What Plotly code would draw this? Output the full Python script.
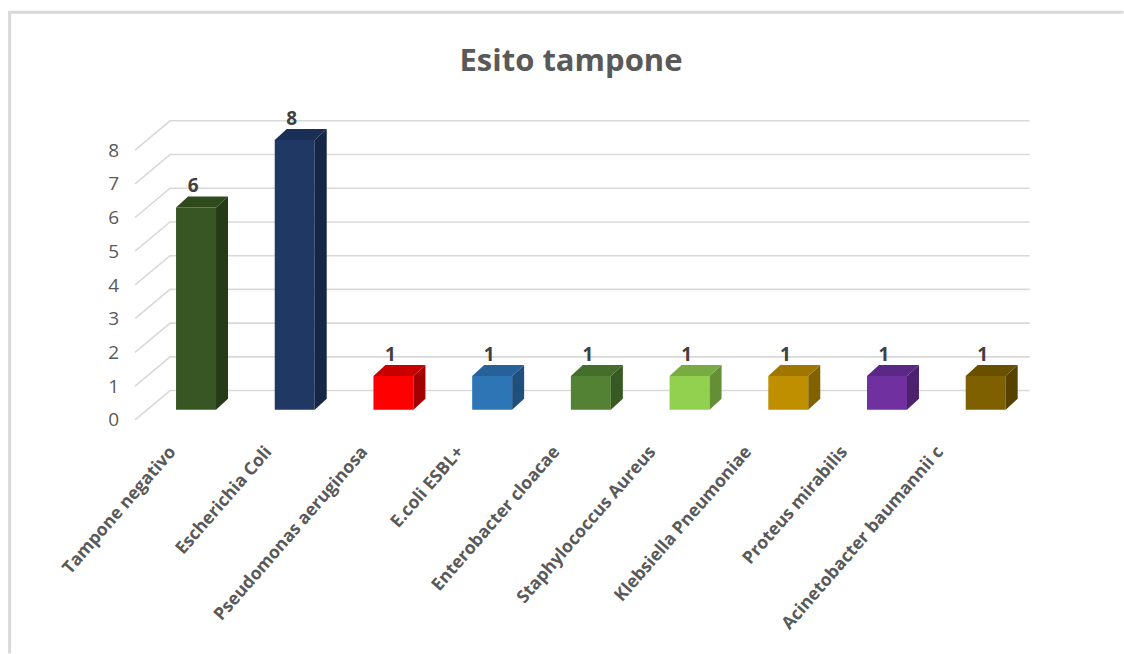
import plotly.graph_objects as go

# ---------------- data ----------------
categories = ["Tampone negativo", "Escherichia Coli", "Pseudomonas aeruginosa",
              "E.coli ESBL+", "Enterobacter cloacae", "Staphylococcus Aureus",
              "Klebsiella Pneumoniae", "Proteus mirabilis", "Acinetobacter baumannii c"]
values = [6, 8, 1, 1, 1, 1, 1, 1, 1]
y_ticks = [0, 1, 2, 3, 4, 5, 6, 7, 8]
title_text = "Esito tampone"

# ---------------- style ----------------
front_colors = ["#375623", "#1f3864", "#ff0000", "#2e75b6", "#548235",
                "#92d050", "#bf8f00", "#7030a0", "#7f6000"]
side_colors = ["#253b17", "#152744", "#a30000", "#1f4f7c", "#395924",
               "#648f37", "#826100", "#4c216d", "#564100"]
top_colors = ["#2e4a1d", "#1a2f55", "#c80000", "#26619a", "#456d2c",
              "#78ab42", "#9e7600", "#5c2885", "#695000"]

W, H = 1124, 654
PX_X = 98.76      # pixels per category
PX_Y = 33.75      # pixels per value unit
X_RANGE = [-0.75, 8.55]
Y_RANGE = [-0.45, 9.1]
X0_PIX = 196.0    # pixel of category 0 (bar plane)
Y0_PIX = 410.0    # pixel of value 0 (bar plane)

ml = X0_PIX + X_RANGE[0] * PX_X
mr = W - (X0_PIX + X_RANGE[1] * PX_X)
mt = Y0_PIX - Y_RANGE[1] * PX_Y
mb = H - (Y0_PIX - Y_RANGE[0] * PX_Y)

# depth offsets (in axis units)
BAR_W = 40 / PX_X
BAR_DX, BAR_DY = 12 / PX_X, 11 / PX_Y           # bar depth
FRONT_DX, FRONT_DY = -12 / PX_X, -10 / PX_Y     # front plane relative to bars
BACK_DX, BACK_DY = 23 / PX_X, 19.3 / PX_Y       # back wall relative to bars
WALL_LEFT_FRONT = (135 - X0_PIX) / PX_X
WALL_RIGHT_BACK = (1030 - X0_PIX) / PX_X

# category-label plane (slightly compressed spacing, as in the perspective view)
LBL_PX = 96.0
LBL_X0 = 170.0

GRID = "#d9d9d9"
TXT = "#595959"
FONT = "Open Sans"

fig = go.Figure()

# ---- walls: back gridlines + left side-wall diagonals (drawn below the bars) ----
shapes = []
bl = WALL_LEFT_FRONT - FRONT_DX + BACK_DX
for k in y_ticks:
    path = (f"M {WALL_LEFT_FRONT},{k + FRONT_DY} L {bl},{k + BACK_DY} "
            f"L {WALL_RIGHT_BACK},{k + BACK_DY}")
    shapes.append(dict(type="path", xref="x", yref="y", path=path, layer="below",
                       line=dict(color=GRID, width=1.6)))

# ---- bars (front faces) ----
xs = list(range(len(categories)))
fig.add_trace(go.Bar(x=xs, y=values, width=BAR_W, marker=dict(color=front_colors, line=dict(width=0)),
                     showlegend=False, hovertext=categories, hoverinfo="text+y"))

# ---- 3D side and top faces ----
hw = BAR_W / 2
for i, v in enumerate(values):
    sx = [i + hw, i + hw + BAR_DX, i + hw + BAR_DX, i + hw, i + hw]
    sy = [0, BAR_DY, v + BAR_DY, v, 0]
    fig.add_trace(go.Scatter(x=sx, y=sy, mode="lines", fill="toself", fillcolor=side_colors[i],
                             line=dict(width=0, color=side_colors[i]), hoverinfo="skip", showlegend=False))
    tx = [i - hw, i - hw + BAR_DX, i + hw + BAR_DX, i + hw, i - hw]
    ty = [v, v + BAR_DY, v + BAR_DY, v, v]
    fig.add_trace(go.Scatter(x=tx, y=ty, mode="lines", fill="toself", fillcolor=top_colors[i],
                             line=dict(width=0, color=top_colors[i]), hoverinfo="skip", showlegend=False))

# ---- data labels ----
fig.add_trace(go.Scatter(x=[i - 0.03 for i in xs], y=[v + 0.31 for v in values], mode="text",
                         text=[str(v) for v in values], textposition="top center",
                         textfont=dict(family=FONT, size=19, color="#404040", weight="bold"),
                         hoverinfo="skip", showlegend=False, cliponaxis=False))

# invisible trace for the label (front-plane) axes
fig.add_trace(go.Scatter(x=[None], y=[None], xaxis="x2", yaxis="y2", showlegend=False, hoverinfo="skip"))

plot_w = W - ml - mr
plot_h = H - mt - mb

shapes += [
    dict(type="line", xref="paper", yref="paper",
         x0=(8 - ml) / plot_w, x1=(W - ml) / plot_w,
         y0=(H - mb - 12) / plot_h, y1=(H - mb - 12) / plot_h,
         line=dict(color="#d9d9d9", width=3)),
    dict(type="line", xref="paper", yref="paper",
         x0=(9.5 - ml) / plot_w, x1=(9.5 - ml) / plot_w,
         y0=(H - mb - 12) / plot_h, y1=(-mb) / plot_h,
         line=dict(color="#d9d9d9", width=3)),
]

fig.update_layout(
    width=W, height=H,
    margin=dict(l=ml, r=mr, t=mt, b=mb, pad=0),
    paper_bgcolor="white", plot_bgcolor="rgba(0,0,0,0)",
    title=dict(text=title_text, x=571 / W, xref="container", xanchor="center",
               y=1 - 60 / H, yref="container", yanchor="middle",
               font=dict(family=FONT, size=31, color=TXT, weight="bold")),
    xaxis=dict(range=X_RANGE, showgrid=False, zeroline=False, showline=False,
               showticklabels=False, ticks=""),
    yaxis=dict(range=Y_RANGE, showgrid=False, zeroline=False, showline=False,
               showticklabels=False, ticks=""),
    xaxis2=dict(range=[(ml - LBL_X0) / LBL_PX, (W - mr - LBL_X0) / LBL_PX], overlaying="x", anchor="y2",
                side="bottom", tickmode="array", tickvals=xs, ticktext=categories, tickangle=-49,
                showgrid=False, zeroline=False, showline=False, ticks="", ticklabelstandoff=12,
                tickfont=dict(family=FONT, size=17.5, color=TXT, weight="bold")),
    yaxis2=dict(range=[Y_RANGE[0] - FRONT_DY, Y_RANGE[1] - FRONT_DY], overlaying="y", anchor="x2",
                side="left", tickmode="array", tickvals=y_ticks, ticktext=[str(t) for t in y_ticks],
                showgrid=False, zeroline=False, showline=False, ticks="", ticklabelstandoff=2,
                tickfont=dict(family=FONT, size=19, color=TXT)),
    shapes=shapes,
)

fig.write_html("out.html")
